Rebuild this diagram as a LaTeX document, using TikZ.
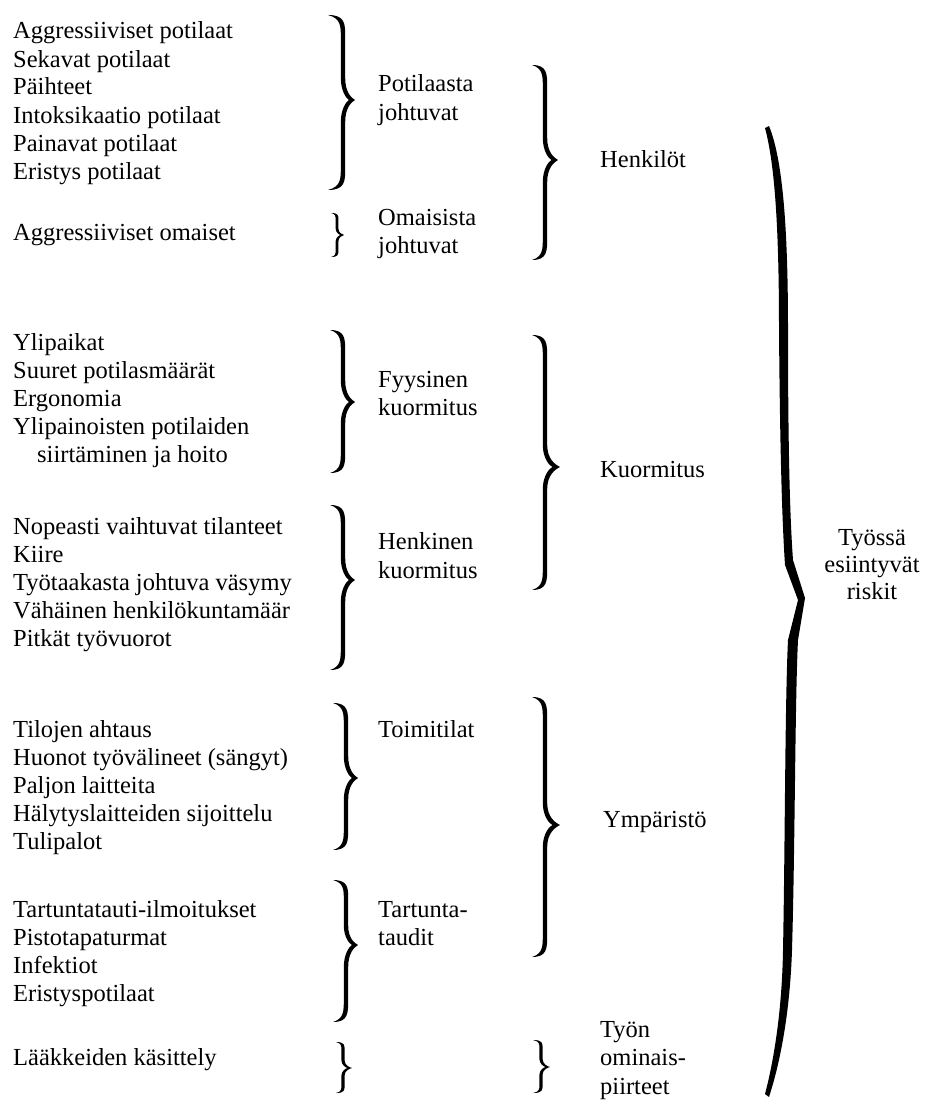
\documentclass[tikz,border=0pt]{standalone}
\usepackage{fontspec}
\setmainfont{Liberation Serif}
\newfontfamily\tnr{Liberation Serif}
\newcommand\Brace[7]{%
 \pgfmathsetmacro\hA{min(22,((#4)-(#2))*0.3)}%
 \pgfmathsetmacro\hB{min(22,((#3)-(#4))*0.3)}%
 \fill[bracefill] (#1,#2) .. controls (#5+#7,#2) and (#5+#7,#2+0.4*\hA) .. (#5+#7,#2+\hA)
  -- (#5+#7,#4-\hA)
  .. controls (#5+#7,#4-0.35*\hA) and (#6-0.3*#6+0.3*#5,#4-0.1*\hA) .. (#6,#4)
  .. controls (#6-0.3*#6+0.3*#5,#4+0.1*\hB) and (#5+#7,#4+0.35*\hB) .. (#5+#7,#4+\hB)
  -- (#5+#7,#3-\hB)
  .. controls (#5+#7,#3-0.4*\hB) and (#5+#7,#3) .. (#1,#3)
  .. controls (#5-#7,#3-0.15*\hB) and (#5-#7,#3-0.5*\hB) .. (#5-#7,#3-\hB)
  -- (#5-#7,#4+\hB)
  .. controls (#5-#7,#4+0.4*\hB) and (#5+0.3*#6-0.3*#5,#4+0.05*\hB) .. (#5+0.5*#6-0.5*#5,#4)
  .. controls (#5+0.3*#6-0.3*#5,#4-0.05*\hA) and (#5-#7,#4-0.4*\hA) .. (#5-#7,#4-\hA)
  -- (#5-#7,#2+\hA)
  .. controls (#5-#7,#2+0.5*\hA) and (#5-#7,#2+0.15*\hA) .. (#1,#2) -- cycle;}
\begin{document}
\begin{tikzpicture}[x=1pt,y=-1pt,
  txt/.style={anchor=base west,inner sep=0pt,font=\tnr\fontsize{24.5}{28}\selectfont,text=black},
  ctxt/.style={anchor=base,inner sep=0pt,font=\tnr\fontsize{24.5}{28}\selectfont,text=black},
  bracefill/.style={fill=black}]
\useasboundingbox[fill=white] (0,0) rectangle (933,1108);
% left column
\foreach \t/\y [count=\i] in {{Aggressiiviset potilaat}/39,{Sekavat potilaat}/67,{Päihteet}/95,{Intoksikaatio potilaat}/123,{Painavat potilaat}/151,{Eristys potilaat}/179}
  \node[txt] (a\i) at (13,\y) {\t};
\node[txt] (ao) at (13,240) {Aggressiiviset omaiset};
\foreach \t/\y [count=\i] in {{Ylipaikat}/350,{Suuret potilasmäärät}/378,{Ergonomia}/406,{Ylipainoisten potilaiden}/434}
  \node[txt] (f\i) at (13,\y) {\t};
\node[txt] (f5) at (37,462) {siirtäminen ja hoito};
\begin{scope}
\clip (0,500) rectangle (293,660);
\foreach \t/\y [count=\i] in {{Nopeasti vaihtuvat tilanteet}/534,{Kiire}/562,{Työtaakasta johtuva väsymy}/590,{Vähäinen henkilökuntamäär}/618,{Pitkät työvuorot}/646}
  \node[txt] (h\i) at (13,\y) {\t};
\end{scope}
\foreach \t/\y [count=\i] in {{Tilojen ahtaus}/737,{Huonot työvälineet (sängyt)}/765,{Paljon laitteita}/793,{Hälytyslaitteiden sijoittelu}/821,{Tulipalot}/849}
  \node[txt] (t\i) at (13,\y) {\t};
\foreach \t/\y [count=\i] in {{Tartuntatauti-ilmoitukset}/917,{Pistotapaturmat}/945,{Infektiot}/973,{Eristyspotilaat}/1001}
  \node[txt] (p\i) at (13,\y) {\t};
\node[txt] (lk) at (13,1065) {Lääkkeiden käsittely};
% first-level labels
\node[txt] (pj1) at (378,92) {Potilaasta};
\node[txt] (pj2) at (378,120) {johtuvat};
\node[txt] (oj1) at (378,225) {Omaisista};
\node[txt] (oj2) at (378,253) {johtuvat};
\node[txt] (fk1) at (378,387) {Fyysinen};
\node[txt] (fk2) at (378,415) {kuormitus};
\node[txt] (hk1) at (378,549) {Henkinen};
\node[txt] (hk2) at (378,578) {kuormitus};
\node[txt] (tt) at (378,737) {Toimitilat};
\node[txt] (td1) at (378,917) {Tartunta-};
\node[txt] (td2) at (378,945) {taudit};
% second-level labels
\node[txt] (hen) at (600,167) {Henkilöt};
\node[txt] (kuo) at (600,477) {Kuormitus};
\node[txt] (ymp) at (603,827) {Ympäristö};
\node[txt] (ty1) at (600,1037) {Työn};
\node[txt] (ty2) at (600,1065) {ominais-};
\node[txt] (ty3) at (600,1094) {piirteet};
% top label
\node[ctxt] (r1) at (872,545) {Työssä};
\node[ctxt] (r2) at (872,572) {esiintyvät};
\node[ctxt] (r3) at (872,599) {riskit};
% braces: xl, ytop, ybot, ytip, xstem, xtip, half-thickness
\Brace{328}{15}{190}{100}{343}{355}{2.2}
\Brace{331}{213}{257}{235}{337}{344}{1.4}
\Brace{532}{65}{260}{160}{545}{558}{2.2}
\Brace{330}{330}{473}{402}{343}{355}{2.2}
\Brace{330}{505}{670}{580}{343}{355}{2.2}
\Brace{532}{335}{590}{467}{545}{560}{2.2}
\Brace{333}{703}{850}{778}{346}{358}{2.2}
\Brace{333}{880}{1022}{945}{346}{358}{2.2}
\Brace{336}{1042}{1093}{1068}{343}{352}{1.6}
\Brace{532}{697}{957}{825}{545}{560}{2.2}
\Brace{533}{1040}{1093}{1067}{541}{550}{1.6}
% big brace
\fill[bracefill] (769,126) .. controls (783,160) and (788,230) .. (788,330)
  .. controls (788,450) and (790,520) .. (793,560) -- (805,598) -- (798,640)
  .. controls (795,700) and (795,850) .. (792,950)
  .. controls (790,1010) and (781,1060) .. (769,1097)
  -- (765,1094) .. controls (774,1060) and (782,1010) .. (783,950)
  .. controls (785,850) and (785,700) .. (788,640) -- (798,600) -- (785,565)
  .. controls (782,520) and (780,450) .. (779,330)
  .. controls (779,230) and (775,165) .. (765,128) -- cycle;
\end{tikzpicture}
\end{document}
